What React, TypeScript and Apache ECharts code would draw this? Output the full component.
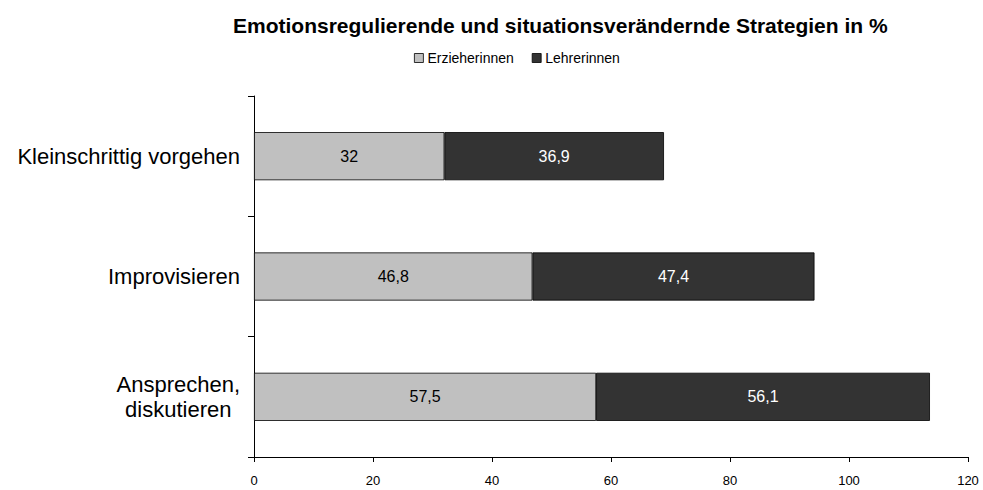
import React, { useEffect, useRef } from "react";
import * as echarts from "echarts";

const categories = ["Kleinschrittig vorgehen", "Improvisieren", "Ansprechen,\ndiskutieren"];
const erzieherinnen = [32, 46.8, 57.5];
const lehrerinnen = [36.9, 47.4, 56.1];
const seriesNames = ["Erzieherinnen", "Lehrerinnen"];
const xTicks = { min: 0, max: 120, interval: 20 };

const FONT = "Liberation Sans, Arial, sans-serif";
const fmt = (v: number) => String(v).replace(".", ",");

export default function App() {
  const ref = useRef<HTMLDivElement>(null);
  useEffect(() => {
    if (!ref.current) return;
    const chart = echarts.init(ref.current, undefined, { renderer: "svg" });
    chart.setOption({
      animation: false,
      backgroundColor: "#fff",
      textStyle: { fontFamily: FONT },
      title: {
        text: "Emotionsregulierende und situationsverändernde Strategien in %",
        left: 228,
        top: 10,
        textStyle: { fontSize: 21, fontWeight: "bold", color: "#000", fontFamily: FONT },
      },
      legend: {
        data: seriesNames,
        left: 409,
        top: 46,
        itemWidth: 9,
        itemHeight: 9,
        itemGap: 18,
        icon: "rect",
        textStyle: { fontSize: 14, color: "#000", fontFamily: FONT, padding: [0, 0, 0, -1] },
        itemStyle: { borderColor: "#000", borderWidth: 0.8 },
      },
      grid: { left: 254, right: 15, top: 96, bottom: 33, containLabel: false },
      xAxis: {
        type: "value",
        min: xTicks.min,
        max: xTicks.max,
        interval: xTicks.interval,
        axisLine: { show: true, lineStyle: { color: "#000", width: 1 } },
        axisTick: { show: true, length: 5, lineStyle: { color: "#000" } },
        axisLabel: { fontSize: 13, color: "#000", margin: 17, fontFamily: FONT },
        splitLine: { show: false },
      },
      yAxis: {
        type: "category",
        inverse: true,
        data: categories,
        axisLine: { show: true, lineStyle: { color: "#000", width: 1 } },
        axisTick: { show: true, length: 6, lineStyle: { color: "#000" } },
        axisLabel: {
          fontSize: 22,
          color: "#000",
          margin: 14,
          fontFamily: FONT,
          lineHeight: 25,
          formatter: (v: string) =>
            v.split("\n").map((l) => `{c|${l}}`).join("\n"),
          rich: { c: { fontSize: 22, align: "center", fontFamily: FONT, color: "#000", lineHeight: 25 } },
        },
      },
      series: [
        {
          name: seriesNames[0],
          type: "bar",
          stack: "total",
          barWidth: "40%",
          data: erzieherinnen,
          itemStyle: { color: "#c0c0c0", borderColor: "#000", borderWidth: 0.8 },
          label: {
            show: true,
            position: "inside",
            color: "#000",
            fontSize: 16,
            fontFamily: FONT,
            formatter: (p: any) => fmt(p.value),
          },
        },
        {
          name: seriesNames[1],
          type: "bar",
          stack: "total",
          barWidth: "40%",
          data: lehrerinnen,
          itemStyle: { color: "#333333", borderColor: "#000", borderWidth: 0.8 },
          label: {
            show: true,
            position: "inside",
            color: "#fff",
            fontSize: 16,
            fontFamily: FONT,
            formatter: (p: any) => fmt(p.value),
          },
        },
      ],
    });
    return () => chart.dispose();
  }, []);
  return <div ref={ref} style={{ width: 983, height: 490, position: "absolute", left: 0, top: 0 }} />;
}
